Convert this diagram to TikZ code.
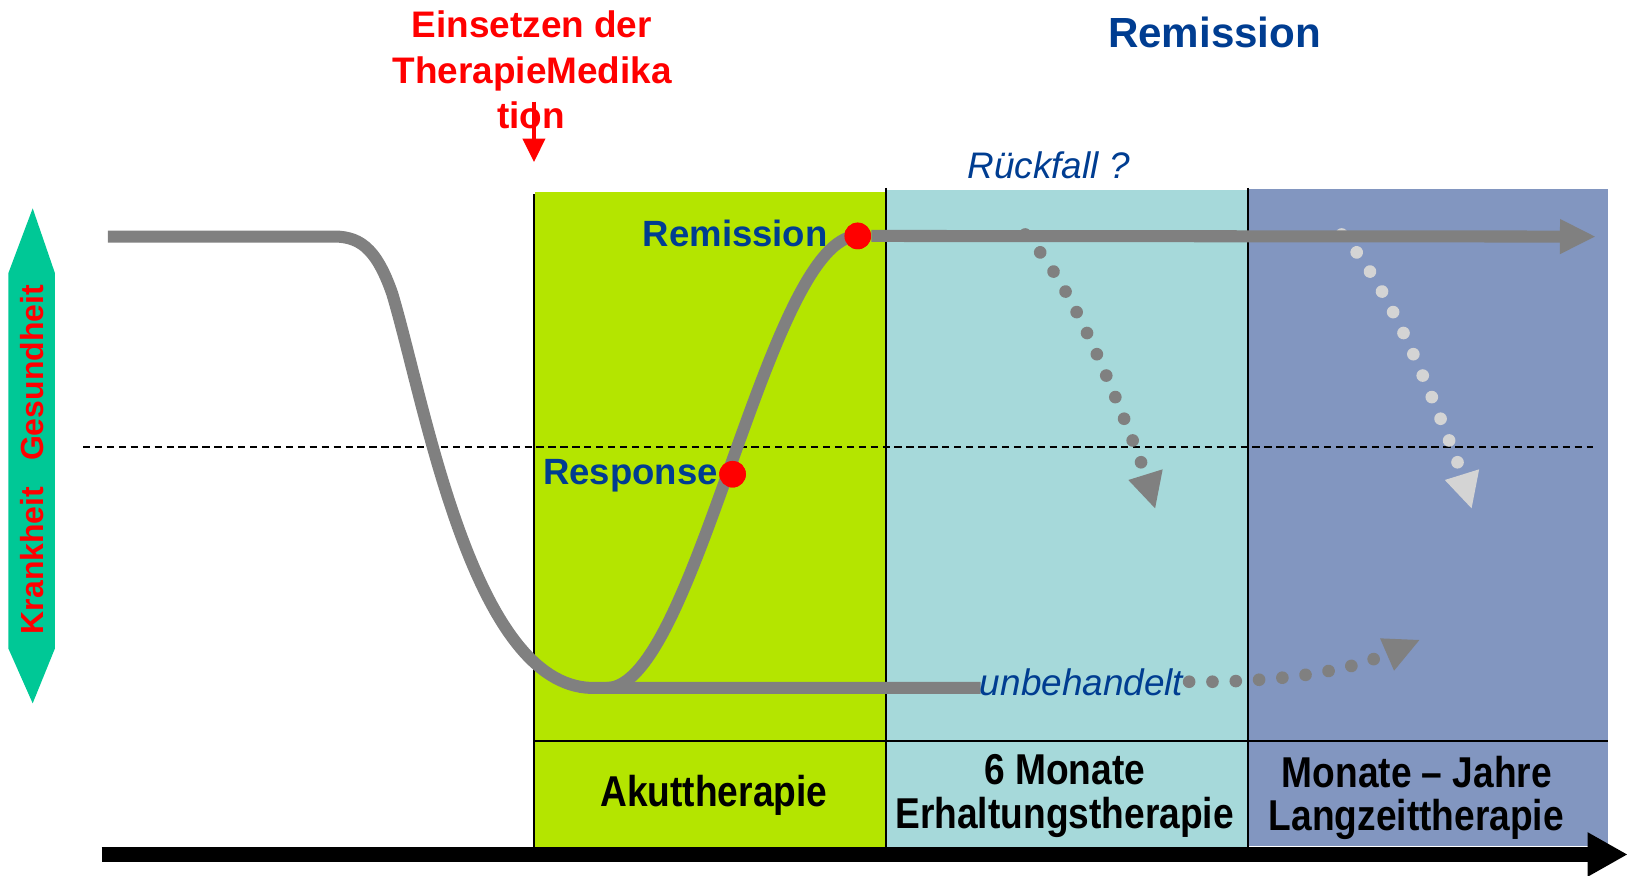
\documentclass[tikz,border=0pt]{standalone}
\usepackage{fontspec}
\setmainfont{Liberation Sans}
\newfontfamily\narrowsans{Liberation Sans}[FakeStretch=0.86]
\usetikzlibrary{arrows.meta,decorations.markings}
\definecolor{akutgreen}{RGB}{180,229,0}
\definecolor{erhcyan}{RGB}{166,217,218}
\definecolor{langblue}{RGB}{130,150,192}
\definecolor{curvegray}{RGB}{128,128,128}
\definecolor{lightdot}{RGB}{212,212,212}
\definecolor{darkblue}{RGB}{0,61,145}
\definecolor{arrowgreen}{RGB}{0,200,150}
\begin{document}
\begin{tikzpicture}[x=0.5pt,y=-0.5pt,
  sepline/.style={draw=black,line width=1pt},
  curve/.style={draw=curvegray,line width=5.8pt,line join=round},
  dotted path/.style={decoration={markings,
      mark=between positions 0 and 1 step 11.25pt with {\fill[#1] (0pt,0pt) circle (3.05pt);}},
      decorate},
  reddot/.style={circle,fill=red,inner sep=0pt,minimum size=12.8pt},
  bluelabel/.style={text=darkblue,font=\bfseries\fontsize{17.6}{21}\selectfont,inner sep=0pt},
  redlabel/.style={text=red,font=\bfseries\fontsize{17.8}{22}\selectfont,inner sep=0pt},
  phaselabel/.style={text=black,font=\narrowsans\bfseries\fontsize{20.8}{25}\selectfont,inner sep=0pt},
  italiclabel/.style={text=darkblue,font=\itshape\fontsize{17.8}{21}\selectfont,inner sep=0pt}
]
\useasboundingbox (0,0) rectangle (1568,844);

% phase areas
\fill[akutgreen] (516,185) rectangle (853,817);
\fill[erhcyan] (853,183) rectangle (1203,817);
\fill[langblue] (1203,182) rectangle (1550,815);
\draw[sepline] (515,187) -- (515,817);
\draw[sepline] (853.5,181) -- (853.5,817);
\draw[sepline] (1203,181) -- (1203,817);
\draw[sepline] (515,714) -- (1550,714);

% threshold
\draw[black,line width=0.9pt,dash pattern=on 3.5pt off 2.25pt] (80,430.5) -- (1535,430.5);

% health axis (double arrow)
\fill[arrowgreen] (31.5,200.8) -- (53,263.4) -- (53,624.8) -- (31.5,677.8) -- (8,624.8) -- (8,263.4) -- cycle;
\node[rotate=90,anchor=base,inner sep=0pt,text=red,font=\bfseries\fontsize{15.4}{18}\selectfont] (axislabel) at (41.7,443) {Krankheit\hspace{12.5pt}Gesundheit};

% time axis
\coordinate (tstart) at (98,823.5);
\coordinate (tend) at (1568,823.5);
\draw[black,line width=7pt,-{Triangle[length=19pt,width=21.5pt,line width=0pt]}] (tstart) -- (tend);

% relapse dotted arrows
\coordinate (r1s) at (988,226);
\coordinate (r1e) at (1104,457);
\path[dotted path=curvegray] (r1s) .. controls (1025,265) and (1060,340) .. (r1e);
\fill[curvegray] (1087.4,462.6) -- (1120.5,452.3) -- (1113.2,489.9) -- cycle;
\coordinate (r2s) at (1293,226);
\coordinate (r2e) at (1409,457);
\path[dotted path=lightdot] (r2s) .. controls (1330,265) and (1365,340) .. (r2e);
\fill[lightdot] (1392.4,462.6) -- (1425.5,452.3) -- (1418.2,489.9) -- cycle;
\coordinate (u1s) at (1146,657);
\coordinate (u1e) at (1332,632);
\path[dotted path=curvegray] (u1s) .. controls (1220,658) and (1292,649) .. (u1e);
\fill[curvegray] (1330,615.2) -- (1367.9,616.8) -- (1343.5,646.4) -- cycle;

% disease course
\draw[curve] (104,228) -- (318,228) .. controls (345,227) and (362,237) .. (378,283)
  .. controls (410,390) and (455,660) .. (570,663) -- (945,663);
\node[reddot] (remdot) at (826.6,227.4) {};
\node[reddot] (resdot) at (706,457) {};
\draw[curve] (585,663) .. controls (670,663) and (740,228) .. (remdot.center);
\coordinate (remend) at (1537,228);
\draw[curve,-{Triangle[length=16.8pt,width=17pt,line width=0pt]}] (remdot.east) -- (remend);
\node[reddot] at (remdot) {};
\node[reddot] at (resdot) {};

% labels
\node[bluelabel,anchor=base east] (remlabel) at (798,237.7) {Remission};
\node[bluelabel,anchor=base east] (reslabel) at (692,466.5) {Response};
\node[text=darkblue,font=\bfseries\fontsize{20.3}{24}\selectfont,inner sep=0pt,anchor=base] (title) at (1170.5,45.5) {Remission};
\node[italiclabel,anchor=base] (rueck) at (1010.5,172) {Rückfall ?};
\node[italiclabel,anchor=base west] (unbeh) at (944,670) {unbehandelt};

\node[redlabel,anchor=base] (ein1) at (512.5,36) {Einsetzen der};
\node[redlabel,anchor=base] (ein2) at (512.9,80.3) {TherapieMedika};
\node[redlabel,anchor=base] (ein3) at (512,123.7) {tion};
\coordinate (medtop) at (514.6,98);
\coordinate (medtip) at (514.6,156);
\draw[red,line width=1.95pt,-{Triangle[length=11.25pt,width=11.2pt,line width=0pt]}] (medtop) -- (medtip);

\node[phaselabel,anchor=base] (akut) at (688,777) {Akuttherapie};
\node[phaselabel,anchor=base] (erh1) at (1026,756) {6 Monate};
\node[phaselabel,anchor=base] (erh2) at (1026,798.5) {Erhaltungstherapie};
\node[phaselabel,anchor=base] (lang1) at (1365.5,758.5) {Monate – Jahre};
\node[phaselabel,anchor=base] (lang2) at (1365,800.5) {Langzeittherapie};
\end{tikzpicture}
\end{document}
